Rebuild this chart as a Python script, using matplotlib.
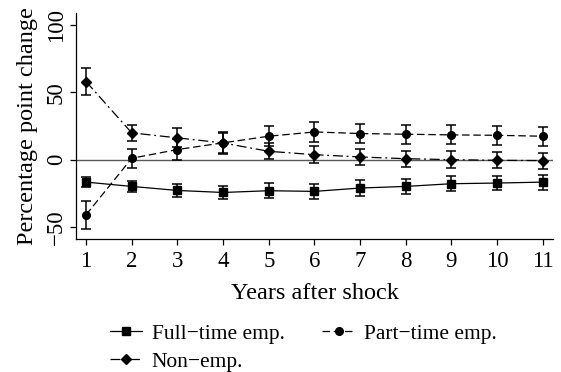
import matplotlib
matplotlib.use('Agg')
import matplotlib.pyplot as plt

plt.rcParams['font.family'] = ['Liberation Serif', 'DejaVu Serif']

years = [1, 2, 3, 4, 5, 6, 7, 8, 9, 10, 11]

full_time = [-16.7, -19.9, -22.9, -24.4, -23.1, -23.6, -21.1, -19.9, -17.9, -17.4, -16.7]
full_time_err = [4.0, 4.0, 5.0, 5.0, 5.6, 5.6, 5.6, 5.5, 5.6, 5.5, 5.5]

part_time = [-41.0, 1.0, 7.5, 12.5, 17.4, 20.6, 19.4, 18.9, 18.4, 18.1, 17.4]
part_time_err = [10.5, 7.0, 8.0, 7.5, 7.5, 7.3, 6.9, 7.0, 7.0, 7.0, 6.9]

non_emp = [58.0, 19.9, 16.2, 12.4, 6.2, 3.7, 2.0, 0.7, 0.0, -0.5, -0.7]
non_emp_err = [10.0, 6.0, 7.0, 8.0, 6.0, 6.5, 6.2, 6.0, 6.2, 6.0, 6.0]

series = [
    ('Full\u2212time emp.', full_time, full_time_err, 's', '-'),
    ('Non\u2212emp.', non_emp, non_emp_err, 'D', (0, (8, 3, 1.5, 3))),
    ('Part\u2212time emp.', part_time, part_time_err, 'o', (0, (6, 3))),
]

fig = plt.figure(figsize=(5.61, 3.72), dpi=100)
ax = fig.add_axes([0.1355, 0.3575, 0.85, 0.6075])

ax.axhline(0, color='0.35', lw=1.0, zorder=1)

handles = []
for label, vals, err, marker, ls in series:
    ax.errorbar(years, vals, yerr=err, fmt='none', ecolor='black',
                elinewidth=1.1, capsize=3.8, capthick=1.1, zorder=2)
    h, = ax.plot(years, vals, color='black', lw=0.9, linestyle=ls,
                 marker=marker, markersize=5.5 if marker != 'D' else 5,
                 zorder=3, label=label)
    handles.append(h)

ax.set_xlim(0.78, 11.22)
ax.set_ylim(-59, 109)
ax.set_xticks(years)
ax.set_yticks([-50, 0, 50, 100])
ax.set_yticklabels(['\u221250', '0', '50', '100'], rotation=90, va='center')
ax.tick_params(labelsize=16.5, width=0.9, length=4.5, pad=2)
ax.tick_params(axis='x', pad=4)
for side in ('top', 'right'):
    ax.spines[side].set_visible(False)
for side in ('left', 'bottom'):
    ax.spines[side].set_linewidth(0.9)

ax.set_xlabel('Years after shock', fontsize=17.5, labelpad=8)
ax.set_ylabel('Percentage point change', fontsize=17.5, labelpad=6)

fig.legend(handles=handles, ncol=2, loc='upper left',
           bbox_to_anchor=(0.196, 0.13), frameon=False, fontsize=15.5,
           handlelength=1.5, columnspacing=1.75, labelspacing=0.38,
           handletextpad=0.45, borderaxespad=0, borderpad=0)

fig.savefig('out.png', dpi=100)
